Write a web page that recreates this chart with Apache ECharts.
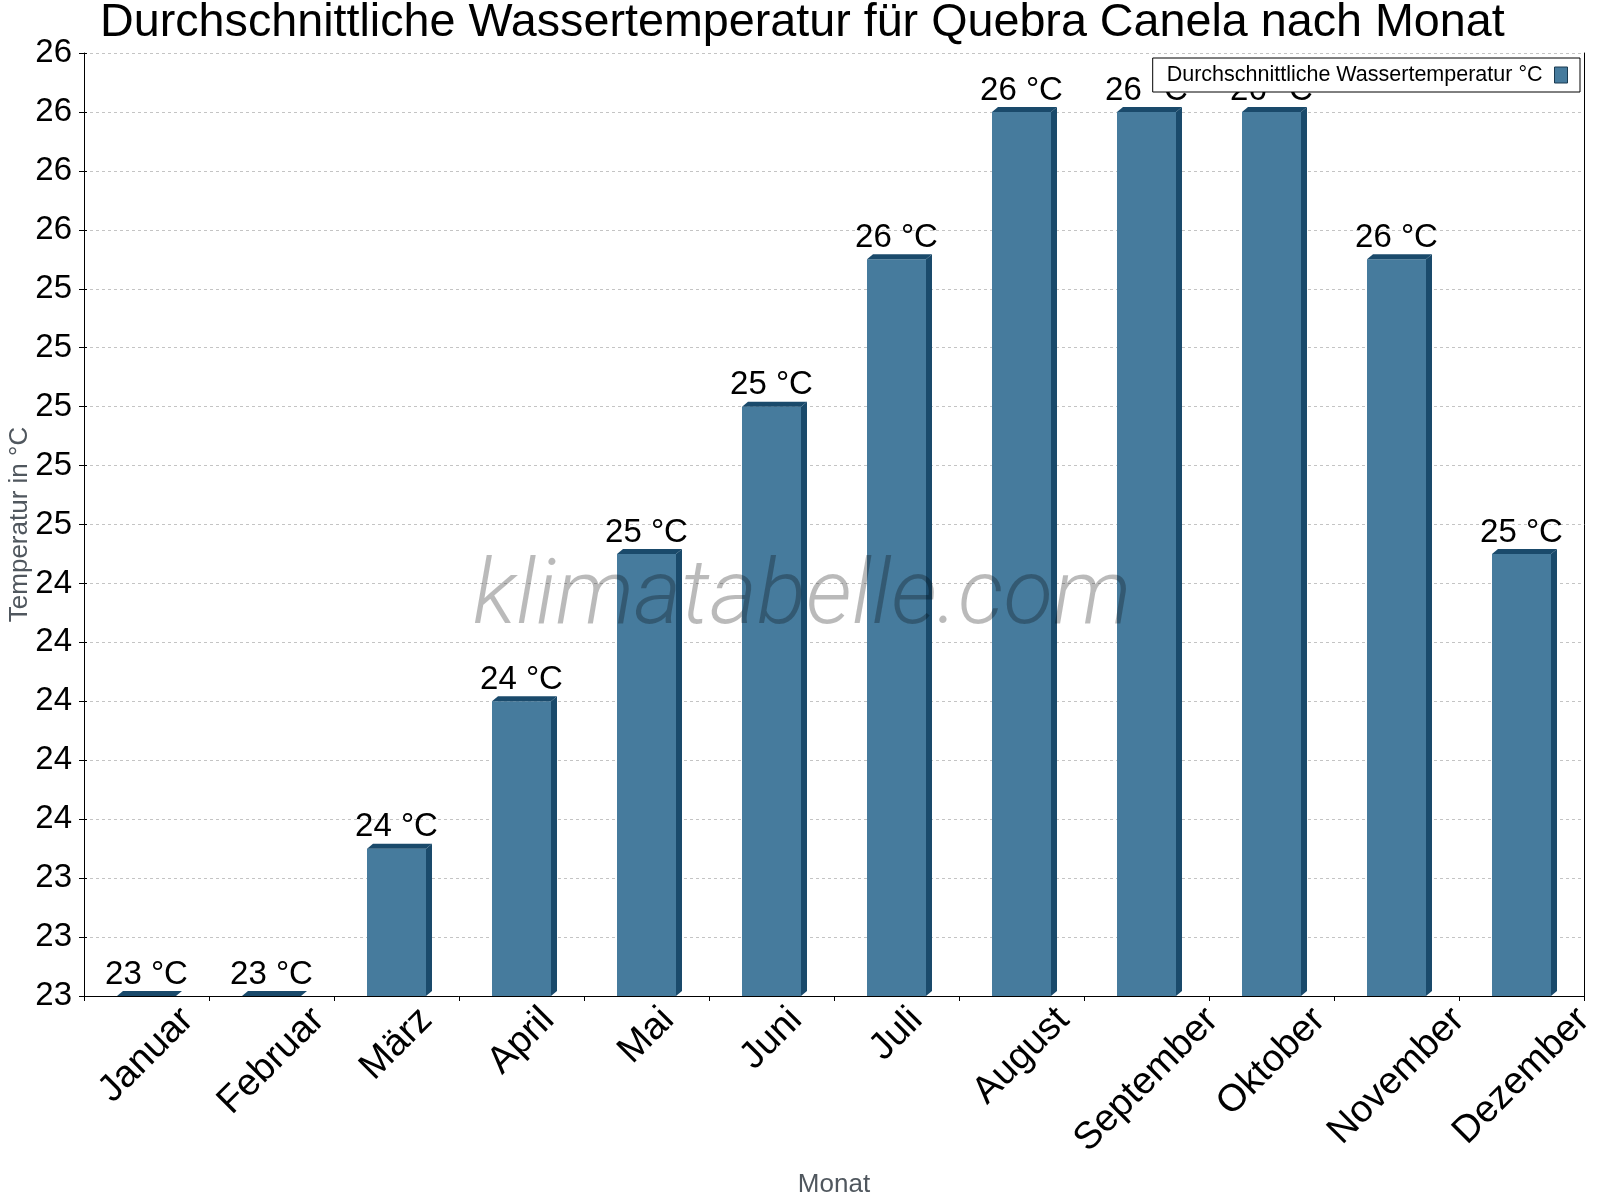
<!DOCTYPE html>
<html><head><meta charset="utf-8">
<script src="https://cdn.jsdelivr.net/npm/echarts@6/dist/echarts.min.js"></script>
<style>html,body{margin:0;padding:0;background:#fff}#c{width:1600px;height:1200px}</style>
</head><body><div id="c"></div>
<script>
const months = ['Januar','Februar','März','April','Mai','Juni','Juli','August','September','Oktober','November','Dezember'];
const waterTemp = [23.0,23.0,23.5,24.0,24.5,25.0,25.5,26.0,26.0,26.0,25.5,24.5];
const yMin = 23, yMax = 26.2, yStep = 0.2;
const titleText = 'Durchschnittliche Wassertemperatur für Quebra Canela nach Monat';
const seriesName = 'Durchschnittliche Wassertemperatur °C';
const yAxisName = 'Temperatur in °C';
const xAxisName = 'Monat';
const watermark = 'klimatabelle.com';

const FONT = 'Liberation Sans';
const front = '#467B9D', dark = '#1A4A6B';
const labelSize = 33;
const xLabelSize = 38;
const mctx = document.createElement('canvas').getContext('2d');
mctx.font = xLabelSize + 'px "' + FONT + '"';
function tw(t){ return mctx.measureText(t).width; }

const chart = echarts.init(document.getElementById('c'));
chart.setOption({
  animation: false,
  backgroundColor: '#fff',
  title: { text: titleText, left: 100, top: 0, padding: 0,
    textStyle: { fontFamily: FONT, fontSize: 46.7, fontWeight: 'normal', color: '#000' } },
  legend: {
    data: [{ name: seriesName, icon: 'rect' }],
    right: 20, top: 58, align: 'right', itemWidth: 13, itemHeight: 16,
    padding: [6, 12, 6, 14], borderColor: '#000', borderWidth: 1, backgroundColor: '#fff',
    textStyle: { fontFamily: FONT, fontSize: 21.5, color: '#000', lineHeight: 22, padding: [0, 7, 0, 0] },
    itemStyle: { borderColor: '#1a3a50', borderWidth: 1 }
  },
  grid: { left: 84, right: 16, top: 53, bottom: 204, containLabel: false, outerBoundsMode: 'none' },
  xAxis: {
    type: 'category', data: months,
    name: xAxisName, nameLocation: 'middle', nameGap: 176, nameMoveOverlap: false,
    nameTextStyle: { fontFamily: FONT, fontSize: 26, color: '#50575e' },
    axisLine: { lineStyle: { color: '#000', width: 1 } },
    axisTick: { show: true, length: 5, lineStyle: { color: '#000' } },
    axisLabel: { show: false },
    splitLine: { show: false }
  },
  yAxis: [
    { type: 'value', min: yMin, max: yMax, interval: yStep, position: 'left',
      name: yAxisName, nameLocation: 'middle', nameGap: 51, nameRotate: 90, nameMoveOverlap: false,
      nameTextStyle: { fontFamily: FONT, fontSize: 26, color: '#50575e' },
      axisLine: { show: true, lineStyle: { color: '#000', width: 1 } },
      axisTick: { show: true, length: 5, lineStyle: { color: '#000' } },
      axisLabel: { margin: 12, fontFamily: FONT, fontSize: labelSize, color: '#000',
        formatter: v => String(Math.round(v)) },
      splitLine: { show: true, lineStyle: { color: '#c4c4c4', width: 1, type: [3, 3] } }
    },
    { type: 'value', min: yMin, max: yMax, interval: yStep, position: 'right',
      axisLine: { show: true, lineStyle: { color: '#000', width: 1 } },
      axisTick: { show: false }, axisLabel: { show: false }, splitLine: { show: false } },
    { type: 'value', min: yMin, max: yMax, interval: yStep, position: 'left',
      axisLine: { show: false },
      axisTick: { show: true, inside: true, length: 3, lineStyle: { color: '#000' } },
      axisLabel: { show: false }, splitLine: { show: false } }
  ],
  graphic: [{
    type: 'text', x: 802, y: 600, z: 100, silent: true,
    style: { text: watermark, fontSize: 91, fontFamily: 'Roboto', fontStyle: 'italic', fontWeight: 300,
      fill: 'rgba(0,0,0,0.27)', align: 'center', verticalAlign: 'middle' }
  }],
  series: [
    { name: seriesName, type: 'bar', data: waterTemp, barWidth: 59,
      itemStyle: { color: front },
      label: { show: true, position: 'top', distance: 5, fontFamily: FONT, fontSize: labelSize, color: '#000',
        formatter: p => Math.round(p.value) + ' °C' }
    },
    { name: 'depth', type: 'custom', silent: true, clip: false, z: 3,
      data: waterTemp.map((v, i) => [i, v]),
      encode: { x: 0, y: 1 },
      renderItem: (params, api) => {
        const i = api.value(0), v = api.value(1);
        const t = api.coord([i, v]), b = api.coord([i, yMin]);
        const hw = 29.5, dx = 6, dy = 5;
        const x0 = t[0] - hw, x1 = t[0] + hw;
        return { type: 'group', children: [
          { type: 'polygon', shape: { points: [[x0, t[1]], [x0 + dx, t[1] - dy], [x1 + dx, t[1] - dy], [x1, t[1]]] }, style: { fill: dark } },
          { type: 'polygon', shape: { points: [[x1, t[1]], [x1 + dx, t[1] - dy], [x1 + dx, b[1] - dy], [x1, b[1]]] }, style: { fill: dark } }
        ] };
      }
    },
    { name: 'monthLabels', type: 'custom', silent: true, clip: false,
      data: months.map((m, i) => [i, yMin]),
      encode: { x: 0, y: 1 },
      renderItem: (params, api) => {
        const i = api.value(0);
        const p = api.coord([i, yMin]);
        const t = months[i];
        const half = (tw(t) + xLabelSize * 0.75) * Math.SQRT1_2 / 2;
        return { type: 'text', x: p[0], y: p[1] + 8 + half, rotation: Math.PI / 4,
          style: { text: t, x: 0, y: 0, align: 'center', verticalAlign: 'middle',
            fontFamily: FONT, fontSize: xLabelSize, fill: '#000' } };
      }
    }
  ]
});
</script>
</body></html>
